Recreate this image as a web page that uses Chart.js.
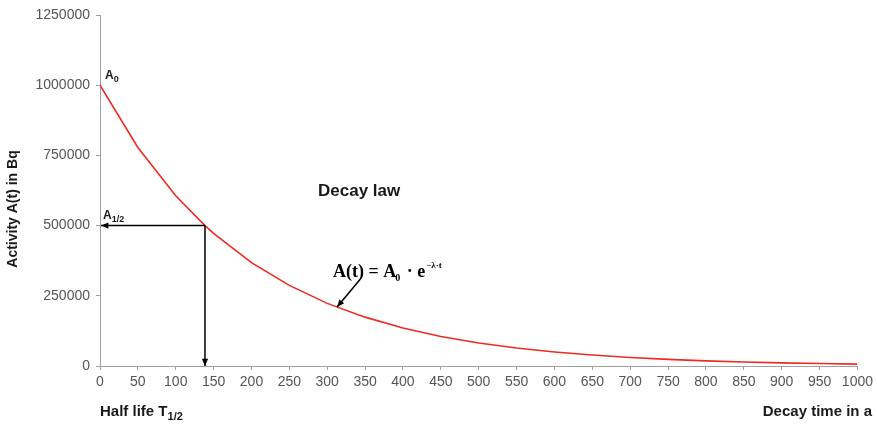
<!DOCTYPE html>
<html>
<head>
<meta charset="utf-8">
<script src="https://cdn.jsdelivr.net/npm/chart.js@4"></script>
<style>
  html, body { margin: 0; padding: 0; background: #fff; }
  #wrap { width: 877px; height: 424px; }
</style>
</head>
<body>
<div id="wrap"><canvas id="decayChart" width="877" height="424"></canvas></div>
<script>
// decay time in a, activity in Bq
const times    = [0, 50, 100, 138.6, 150, 200, 250, 300, 350, 400, 450, 500, 550, 600, 650, 700, 750, 800, 850, 900, 950, 1000];
const activity = [1000000, 778000, 606000, 500000, 472000, 368000, 287000, 223000, 174000, 135000, 105000, 82000, 64000, 50000, 39000, 30000, 23500, 18300, 14300, 11100, 8700, 6700];
const halfLife = 138.6;
const halfActivity = 500000;
const xTicks = [0, 50, 100, 150, 200, 250, 300, 350, 400, 450, 500, 550, 600, 650, 700, 750, 800, 850, 900, 950, 1000];
const yTicks = [0, 250000, 500000, 750000, 1000000, 1250000];

const points = times.map((t, i) => ({ x: t, y: activity[i] }));

function arrow(ctx, x1, y1, x2, y2, size) {
    const a = Math.atan2(y2 - y1, x2 - x1);
    ctx.beginPath();
    ctx.moveTo(x1, y1);
    ctx.lineTo(x2, y2);
    ctx.stroke();
    ctx.beginPath();
    ctx.moveTo(x2, y2);
    ctx.lineTo(x2 - size * Math.cos(a - 0.4), y2 - size * Math.sin(a - 0.4));
    ctx.lineTo(x2 - size * Math.cos(a + 0.4), y2 - size * Math.sin(a + 0.4));
    ctx.closePath();
    ctx.fill();
}

function subText(ctx, base, sub, x, y, font, subFont, dy) {
    ctx.font = font;
    ctx.fillText(base, x, y);
    const w = ctx.measureText(base).width;
    ctx.font = subFont;
    ctx.fillText(sub, x + w, y + dy);
}

const annotations = {
    id: 'annotations',
    afterDatasetsDraw(chart) {
        const ctx = chart.ctx;
        const xs = chart.scales.x, ys = chart.scales.y;
        const hx = xs.getPixelForValue(halfLife);
        const hy = ys.getPixelForValue(halfActivity);
        ctx.save();
        ctx.strokeStyle = '#000';
        ctx.fillStyle = '#000';
        ctx.lineWidth = 1.5;
        arrow(ctx, hx, hy, xs.getPixelForValue(0) + 1, hy, 8);
        arrow(ctx, hx, hy, hx, ys.getPixelForValue(0), 8);

        // formula arrow
        arrow(ctx, xs.getPixelForValue(343), ys.getPixelForValue(307000),
              xs.getPixelForValue(313), ys.getPixelForValue(210000), 8);

        ctx.fillStyle = '#1a1a1a';
        ctx.textBaseline = 'alphabetic';
        ctx.textAlign = 'left';
        subText(ctx, 'A', '0', xs.getPixelForValue(0) + 5, ys.getPixelForValue(1000000) - 6,
                'bold 12px "Liberation Sans"', 'bold 9px "Liberation Sans"', 3);
        subText(ctx, 'A', '1/2', xs.getPixelForValue(0) + 3, ys.getPixelForValue(500000) - 7,
                'bold 12px "Liberation Sans"', 'bold 9px "Liberation Sans"', 3);

        ctx.font = 'bold 17px "Liberation Sans"';
        ctx.fillText('Decay law', 318, 196);

        // formula
        let fx = 333, fy = 277;
        ctx.fillStyle = '#000';
        ctx.font = 'bold 18px "Liberation Serif"';
        const part1 = 'A(t) = A';
        ctx.fillText(part1, fx, fy);
        fx += ctx.measureText(part1).width;
        ctx.font = 'bold 10px "Liberation Serif"';
        ctx.fillText('0', fx - 1, fy + 4);
        fx += 6;
        ctx.font = 'bold 18px "Liberation Serif"';
        const part2 = ' \u00b7 e';
        ctx.fillText(part2, fx, fy);
        fx += ctx.measureText(part2).width;
        ctx.font = 'bold 9px "Liberation Serif"';
        ctx.fillText('\u2212\u03bb\u00b7t', fx + 1, fy - 9);

        // axis titles
        ctx.fillStyle = '#1a1a1a';
        ctx.font = 'bold 15px "Liberation Sans"';
        ctx.textAlign = 'right';
        ctx.fillText('Decay time in a', 872, 416);
        ctx.textAlign = 'left';
        subText(ctx, 'Half life T', '1/2', 100, 416,
                'bold 15px "Liberation Sans"', 'bold 11px "Liberation Sans"', 4);

        ctx.translate(17, 209);
        ctx.rotate(-Math.PI / 2);
        ctx.textAlign = 'center';
        ctx.font = 'bold 14px "Liberation Sans"';
        ctx.fillText('Activity A(t) in Bq', 0, 0);
        ctx.restore();
    }
};

new Chart(document.getElementById('decayChart'), {
    type: 'scatter',
    data: {
        datasets: [{
            data: points,
            showLine: true,
            borderColor: '#ee2a24',
            borderWidth: 1.6,
            pointRadius: 0,
            tension: 0,
            fill: false
        }]
    },
    options: {
        responsive: false,
        animation: false,
        layout: { padding: { top: 15, right: 16, left: 0, bottom: 0 } },
        plugins: { legend: { display: false }, tooltip: { enabled: false } },
        scales: {
            x: {
                type: 'linear',
                min: 0,
                max: 1000,
                afterBuildTicks: s => { s.ticks = xTicks.map(v => ({ value: v })); },
                afterFit: s => { s.height = 58; },
                grid: { display: true, drawOnChartArea: false, drawTicks: true, tickLength: 4, color: '#a0a0a0' },
                border: { color: '#a0a0a0', width: 1 },
                ticks: { color: '#555', font: { family: 'Liberation Sans', size: 14 }, padding: 4, maxRotation: 0, autoSkip: false,
                         callback: v => String(v) }
            },
            y: {
                min: 0,
                max: 1250000,
                afterBuildTicks: s => { s.ticks = yTicks.map(v => ({ value: v })); },
                afterFit: s => { s.width = 100; },
                grid: { display: true, drawOnChartArea: false, drawTicks: true, tickLength: 4, color: '#a0a0a0' },
                border: { color: '#a0a0a0', width: 1 },
                ticks: { color: '#555', font: { family: 'Liberation Sans', size: 14 }, padding: 6,
                         callback: v => String(v) }
            }
        }
    },
    plugins: [annotations]
});
</script>
</body>
</html>
